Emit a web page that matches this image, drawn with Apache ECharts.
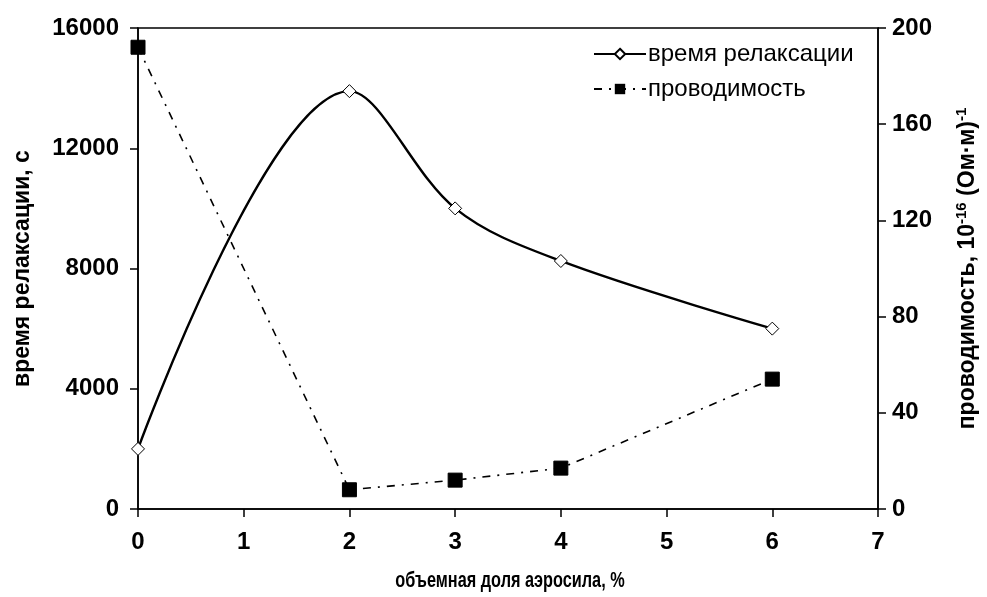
<!DOCTYPE html>
<html>
<head>
<meta charset="utf-8">
<script src="https://cdn.jsdelivr.net/npm/echarts@6/dist/echarts.min.js"></script>
<style>
  html, body { margin: 0; padding: 0; background: #fff; }
  #chart { width: 987px; height: 597px; }
</style>
</head>
<body>
<div id="chart"></div>
<script>
// Aerosil volume fraction, %
const fraction = [0, 2, 3, 4, 6];
// Relaxation time, s
const relaxTime = [2000, 13900, 10000, 8250, 6000];
// Conductivity, 10^-16 (Ohm·m)^-1
const conductivity = [192, 8, 12, 17, 54];

const xTicks = { min: 0, max: 7, interval: 1 };
const leftTicks = { min: 0, max: 16000, interval: 4000 };
const rightTicks = { min: 0, max: 200, interval: 40 };

const xTitle = 'объемная доля аэросила, %';

const FONT = '"Liberation Sans", Arial, sans-serif';
const tickFont = { color: '#000', fontFamily: FONT, fontWeight: 'bold', fontSize: 24 };
const titleFont = { color: '#000', fontFamily: FONT, fontWeight: 'bold', fontSize: 23 };
const axisLine = { show: true, lineStyle: { color: '#000', width: 1.5 } };
const axisTick = { show: true, inside: false, length: 8, lineStyle: { color: '#000', width: 1.5 } };
const plain = v => String(v);

const chart = echarts.init(document.getElementById('chart'));
chart.setOption({
  animation: false,
  backgroundColor: '#fff',
  grid: {
    left: 138, right: 108, top: 28, bottom: 88,
    show: true, borderColor: '#000', borderWidth: 1.5, backgroundColor: 'transparent'
  },
  legend: {
    orient: 'vertical',
    left: 588, top: 37,
    itemWidth: 52, itemHeight: 13, itemGap: 11,
    textStyle: { color: '#000', fontFamily: FONT, fontSize: 24, padding: [0, 0, 0, -3] },
    data: ['время релаксации', 'проводимость']
  },
  // condensed bold title under the x axis
  graphic: [{
    type: 'text',
    x: 510, y: 581,
    scaleX: 0.74,
    style: {
      text: xTitle,
      fill: '#000',
      font: 'bold 22px ' + FONT,
      textAlign: 'center',
      textVerticalAlign: 'middle'
    }
  }],
  xAxis: {
    type: 'value',
    min: xTicks.min, max: xTicks.max, interval: xTicks.interval,
    axisLine: axisLine, axisTick: axisTick,
    axisLabel: Object.assign({ margin: 21, formatter: plain }, tickFont),
    splitLine: { show: false }
  },
  yAxis: [
    {
      type: 'value', position: 'left',
      min: leftTicks.min, max: leftTicks.max, interval: leftTicks.interval,
      name: 'время релаксации, с',
      nameLocation: 'middle', nameGap: 104, nameRotate: 90,
      nameTextStyle: titleFont,
      axisLine: axisLine, axisTick: axisTick,
      axisLabel: Object.assign({ margin: 19, formatter: plain }, tickFont),
      splitLine: { show: false }
    },
    {
      type: 'value', position: 'right',
      min: rightTicks.min, max: rightTicks.max, interval: rightTicks.interval,
      name: '{n|проводимость, 10}{s|-16}{n| (Ом·м)}{s|-1}',
      nameLocation: 'middle', nameGap: 76, nameRotate: 90,
      nameTextStyle: {
        rich: {
          n: titleFont,
          s: Object.assign({}, titleFont, { fontSize: 15, verticalAlign: 'top', padding: [0, 0, 12, 0] })
        }
      },
      axisLine: axisLine, axisTick: axisTick,
      axisLabel: Object.assign({ margin: 14, formatter: plain }, tickFont),
      splitLine: { show: false }
    }
  ],
  series: [
    {
      name: 'время релаксации',
      type: 'line',
      yAxisIndex: 0,
      smooth: 0.35,
      data: fraction.map((x, i) => [x, relaxTime[i]]),
      symbol: 'diamond', symbolSize: 13,
      itemStyle: { color: '#fff', borderColor: '#000', borderWidth: 1 },
      lineStyle: { color: '#000', width: 2.4 },
      z: 3
    },
    {
      name: 'проводимость',
      type: 'line',
      yAxisIndex: 1,
      data: fraction.map((x, i) => [x, conductivity[i]]),
      symbol: 'rect', symbolSize: 14,
      itemStyle: { color: '#000', borderColor: '#000' },
      lineStyle: { color: '#000', width: 1.6, type: [8, 7, 2, 7] },
      z: 2
    }
  ]
});
</script>
</body>
</html>
